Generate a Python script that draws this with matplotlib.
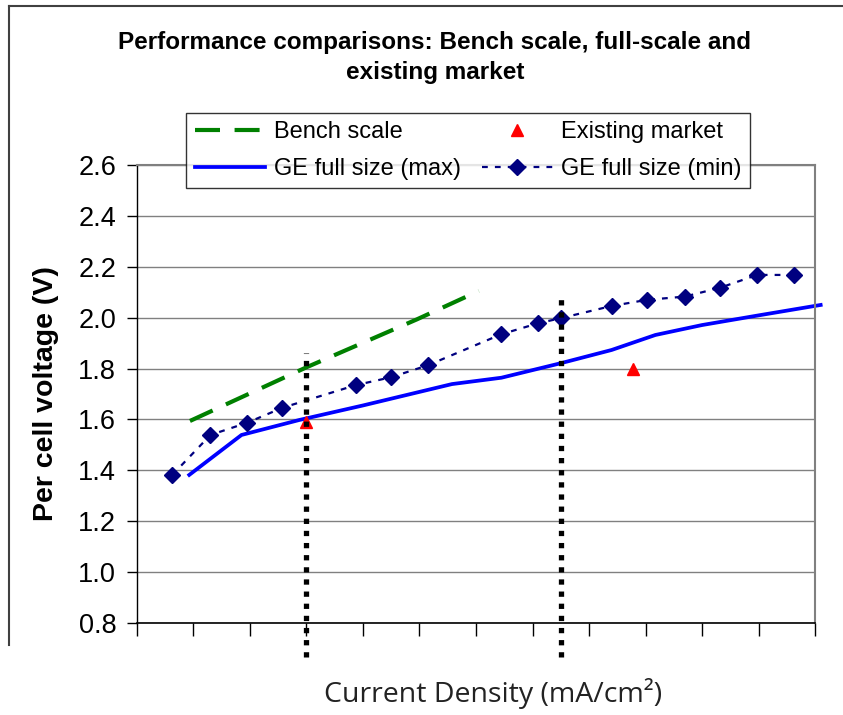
import matplotlib
matplotlib.use('Agg')
import matplotlib.pyplot as plt
from matplotlib.lines import Line2D

plt.rcParams['font.family'] = ['Liberation Sans', 'DejaVu Sans']

# Current density (mA/cm2) vs per cell voltage (V)
bench_x = [37.5, 120, 198, 242]
bench_v = [1.594, 1.805, 1.993, 2.105]

market_x = [120, 351]
market_v = [1.59, 1.80]

max_x = [37, 74, 115, 160, 223, 258, 300, 336, 367, 400, 440, 484]
max_v = [1.382, 1.539, 1.598, 1.655, 1.739, 1.764, 1.821, 1.873, 1.932, 1.971, 2.009, 2.05]

min_x = [25, 52, 78, 103, 155, 180, 206, 258, 284, 300, 336, 361, 388, 413, 439, 465]
min_v = [1.382, 1.539, 1.587, 1.646, 1.735, 1.766, 1.813, 1.935, 1.978, 1.998,
         2.046, 2.070, 2.083, 2.118, 2.168, 2.168]

# vertical dotted markers
vline_x = [120, 300]
vline_top = [1.86, 2.09]
vline_bottom = [0.665, 0.665]

yticks = [0.8, 1.0, 1.2, 1.4, 1.6, 1.8, 2.0, 2.2, 2.4, 2.6]
xticks = list(range(0, 481, 40))

fig = plt.figure(figsize=(8.43, 7.15), dpi=100)
ax = fig.add_axes([0.1625, 0.1287, 0.8043, 0.6405])

ax.plot(bench_x, bench_v, color='#008000', lw=3.0, dashes=(6, 3.5), label='Bench scale')
ax.plot(max_x, max_v, color='#0000ff', lw=2.7, label='GE full size (max)', clip_on=False)
ax.plot(market_x, market_v, '^', color='red', markersize=9, label='Existing market', zorder=5)
ax.plot(min_x, min_v, color='#000080', lw=1.6, dashes=(2.6, 3.2), marker='D',
        markersize=8.5, label='GE full size (min)')

# dotted lines drawn bottom-up so the pattern starts cleanly at the bottom
for x, top, bot in zip(vline_x, vline_top, vline_bottom):
    ax.plot([x, x], [bot, top], color='black', lw=3.8, dashes=(1.0, 1.3),
            clip_on=False, zorder=6)

ax.set_xlim(0, 480)
ax.set_ylim(0.8, 2.6)
ax.set_xticks(xticks)
ax.set_xticklabels([])
ax.set_yticks(yticks)
ax.set_yticklabels([f'{t:.1f}' for t in yticks], fontsize=19.5)
ax.tick_params(axis='y', length=7, width=1, pad=8)
ax.tick_params(axis='x', length=9, width=1)
ax.yaxis.grid(True, color='#808080', lw=1)
ax.set_axisbelow(True)
for s in ['top', 'right']:
    ax.spines[s].set_color('#808080')
    ax.spines[s].set_linewidth(1.5)
ax.spines['left'].set_linewidth(1)
ax.spines['bottom'].set_linewidth(1.2)

ax.set_ylabel('Per cell voltage (V)', fontsize=20.5, fontweight='bold', labelpad=14)

fig.text(0.516, 0.941, 'Performance comparisons: Bench scale, full-scale and',
         ha='center', va='center', fontsize=17.5, fontweight='bold')
fig.text(0.516, 0.899, 'existing market', ha='center', va='center',
         fontsize=17.5, fontweight='bold')

fig.text(0.585, 0.030, 'Current Density (mA/cm²)', ha='center', va='center',
         fontsize=20.5, family=['Open Sans', 'DejaVu Sans'], color='#222222')

handles, labels = ax.get_legend_handles_labels()
leg = ax.legend(handles, labels, ncol=2,
                loc='center', bbox_to_anchor=(0.5552, 0.7895),
                bbox_transform=fig.transFigure, fontsize=17, numpoints=1,
                frameon=True, fancybox=False, edgecolor='black',
                handlelength=3.0, handletextpad=0.35, columnspacing=0.9,
                labelspacing=0.62, borderpad=0.35, borderaxespad=0)
leg.get_frame().set_linewidth(1)

# outer chart frame (top and left only, rest cropped)
fig.add_artist(Line2D([0.011, 1.0], [0.992, 0.992], color='#404040', lw=1.5))
fig.add_artist(Line2D([0.011, 0.011], [0.992, 0.098], color='#404040', lw=1.5))

fig.savefig('out.png', dpi=100)
